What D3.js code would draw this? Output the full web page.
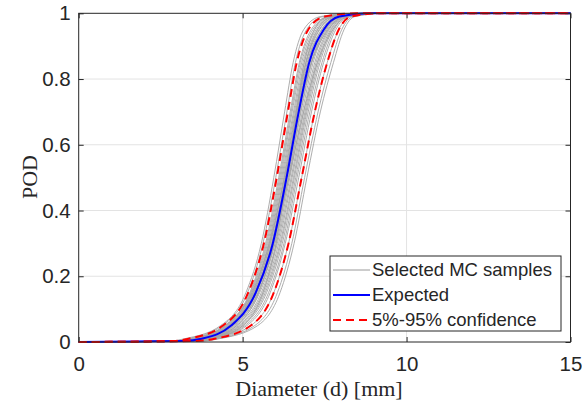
<!DOCTYPE html>
<html>
<head>
<meta charset="utf-8">
<script src="https://cdn.jsdelivr.net/npm/d3@7/dist/d3.min.js"></script>
<style>
  body { margin: 0; background: #fff; }
  text { font-family: "Liberation Sans", Arial, Helvetica, sans-serif; fill: #262626; }
</style>
</head>
<body>
<svg id="chart" width="582" height="405"></svg>
<script>
var podLevels = [0.003, 0.01, 0.05, 0.15, 0.3, 0.5, 0.7, 0.85, 0.95, 0.99, 1];

var expected = [3.20, 3.75, 4.65, 5.40, 5.92, 6.34, 6.71, 7.03, 7.47, 7.95, 8.90];
var conf05   = [2.90, 3.35, 4.40, 5.17, 5.65, 6.04, 6.38, 6.65, 7.00, 7.50, 8.50];
var conf95   = [3.60, 4.15, 5.25, 5.95, 6.40, 6.80, 7.20, 7.58, 7.93, 8.30, 9.20];

var mcSamples = [
  [2.81, 3.23, 4.33, 5.10, 5.57, 5.95, 6.28, 6.54, 6.86, 7.37, 8.38],
  [2.87, 3.31, 4.38, 5.15, 5.62, 6.01, 6.35, 6.61, 6.95, 7.45, 8.46],
  [2.96, 3.43, 4.45, 5.22, 5.70, 6.10, 6.45, 6.73, 7.09, 7.59, 8.58],
  [2.99, 3.47, 4.48, 5.24, 5.73, 6.13, 6.48, 6.76, 7.14, 7.64, 8.62],
  [3.02, 3.51, 4.50, 5.26, 5.76, 6.16, 6.51, 6.80, 7.19, 7.68, 8.66],
  [3.05, 3.55, 4.53, 5.29, 5.79, 6.19, 6.55, 6.84, 7.24, 7.73, 8.70],
  [3.08, 3.59, 4.55, 5.31, 5.81, 6.22, 6.58, 6.88, 7.28, 7.77, 8.74],
  [3.11, 3.63, 4.58, 5.33, 5.84, 6.25, 6.61, 6.92, 7.33, 7.82, 8.78],
  [3.13, 3.65, 4.59, 5.34, 5.85, 6.27, 6.63, 6.94, 7.35, 7.84, 8.80],
  [3.16, 3.69, 4.61, 5.37, 5.88, 6.30, 6.66, 6.97, 7.40, 7.88, 8.84],
  [3.17, 3.71, 4.63, 5.38, 5.89, 6.31, 6.68, 6.99, 7.42, 7.90, 8.86],
  [3.20, 3.75, 4.65, 5.40, 5.92, 6.34, 6.71, 7.03, 7.47, 7.95, 8.90],
  [3.22, 3.77, 4.68, 5.43, 5.94, 6.36, 6.73, 7.06, 7.49, 7.97, 8.92],
  [3.24, 3.79, 4.71, 5.46, 5.97, 6.39, 6.76, 7.09, 7.52, 7.99, 8.93],
  [3.26, 3.81, 4.74, 5.48, 5.99, 6.41, 6.78, 7.11, 7.54, 8.00, 8.95],
  [3.29, 3.84, 4.78, 5.52, 6.03, 6.44, 6.82, 7.15, 7.57, 8.03, 8.97],
  [3.32, 3.87, 4.83, 5.57, 6.06, 6.48, 6.86, 7.20, 7.61, 8.06, 8.99],
  [3.35, 3.90, 4.88, 5.61, 6.10, 6.51, 6.90, 7.24, 7.64, 8.08, 9.01],
  [3.38, 3.93, 4.92, 5.65, 6.14, 6.55, 6.93, 7.28, 7.68, 8.11, 9.04],
  [3.41, 3.96, 4.96, 5.69, 6.17, 6.58, 6.96, 7.32, 7.71, 8.13, 9.06],
  [3.44, 3.99, 5.01, 5.73, 6.21, 6.62, 7.00, 7.36, 7.75, 8.16, 9.08],
  [3.48, 4.03, 5.07, 5.79, 6.26, 6.66, 7.05, 7.42, 7.79, 8.20, 9.11],
  [3.52, 4.07, 5.13, 5.84, 6.30, 6.71, 7.10, 7.47, 7.84, 8.23, 9.14],
  [3.60, 4.15, 5.25, 5.95, 6.40, 6.80, 7.20, 7.58, 7.93, 8.30, 9.20],
  [3.68, 4.23, 5.37, 6.06, 6.50, 6.89, 7.30, 7.69, 8.02, 8.37, 9.26],
  [3.74, 4.29, 5.46, 6.14, 6.57, 6.96, 7.37, 7.77, 8.09, 8.42, 9.30],
  [2.90, 3.41, 4.48, 5.28, 5.82, 6.28, 6.70, 7.10, 7.60, 8.10, 9.08],
  [3.60, 4.07, 5.01, 5.62, 6.02, 6.34, 6.64, 6.88, 7.19, 7.59, 8.50],
  [3.40, 3.91, 4.82, 5.49, 5.95, 6.33, 6.66, 6.93, 7.29, 7.73, 8.66],
  [3.02, 3.57, 4.58, 5.37, 5.92, 6.41, 6.86, 7.28, 7.75, 8.21, 9.17]
];

var xTicks = [0, 5, 10, 15];
var yTicks = [0, 0.2, 0.4, 0.6, 0.8, 1];
var legendLabels = ["Selected MC samples", "Expected", "5%-95% confidence"];

var svg = d3.select("#chart");
var x = d3.scaleLinear().domain([0, 15]).range([78.7, 570.5]);
var y = d3.scaleLinear().domain([0, 1]).range([342, 13.3]);

// grid
svg.append("g").selectAll("line").data(xTicks.slice(1, -1)).enter().append("line")
  .attr("x1", d => x(d)).attr("x2", d => x(d))
  .attr("y1", y(0)).attr("y2", y(1))
  .attr("stroke", "#e3e3e3").attr("stroke-width", 1);
svg.append("g").selectAll("line").data(yTicks.slice(1, -1)).enter().append("line")
  .attr("y1", d => y(d)).attr("y2", d => y(d))
  .attr("x1", x(0)).attr("x2", x(15))
  .attr("stroke", "#e3e3e3").attr("stroke-width", 1);

// axes (ticks inside, mirrored on top/right)
function styleAxis(g) {
  g.select(".domain").remove();
  g.selectAll(".tick line").attr("stroke", "#262626");
  g.selectAll("text").style("font-size", "20.5px").attr("fill", "#262626");
}
svg.append("g").attr("transform", "translate(0," + y(0) + ")")
  .call(d3.axisBottom(x).tickValues(xTicks).tickSize(-5).tickPadding(14).tickFormat(d3.format("d")))
  .call(styleAxis);
svg.append("g").attr("transform", "translate(" + x(0) + ",0)")
  .call(d3.axisLeft(y).tickValues(yTicks).tickSize(-5).tickPadding(8).tickFormat(d => d === 0 || d === 1 ? d : d3.format(".1f")(d)))
  .call(styleAxis);
svg.append("g").attr("transform", "translate(0," + y(1) + ")")
  .call(d3.axisTop(x).tickValues(xTicks).tickSize(-5).tickFormat(""))
  .call(styleAxis);
svg.append("g").attr("transform", "translate(" + x(15) + ",0)")
  .call(d3.axisRight(y).tickValues(yTicks).tickSize(-5).tickFormat(""))
  .call(styleAxis);

// curves
function pts(xs) {
  return [[0, 0]].concat(xs.map((d, i) => [d, podLevels[i]])).concat([[15, 1]]);
}
var line = d3.line().x(d => x(d[0])).y(d => y(d[1])).curve(d3.curveMonotoneX);

svg.append("g").selectAll("path").data(mcSamples).enter().append("path")
  .attr("d", d => line(pts(d)))
  .attr("fill", "none").attr("stroke", "#a4a4a4").attr("stroke-width", 0.9);

svg.append("path").attr("d", line(pts(expected)))
  .attr("fill", "none").attr("stroke", "#0000ff").attr("stroke-width", 2);

[conf05, conf95].forEach(function (c) {
  svg.append("path").attr("d", line(pts(c)))
    .attr("fill", "none").attr("stroke", "#ff0000").attr("stroke-width", 2)
    .attr("stroke-dasharray", "8,5");
});

// box
svg.append("rect").attr("x", x(0)).attr("y", y(1))
  .attr("width", x(15) - x(0)).attr("height", y(0) - y(1))
  .attr("fill", "none").attr("stroke", "#262626").attr("stroke-width", 1);

// axis labels
svg.append("text").attr("x", 319).attr("y", 396).attr("text-anchor", "middle")
  .style("font-family", "'Liberation Serif', 'Times New Roman', serif").style("font-size", "22px")
  .text("Diameter (d) [mm]");
svg.append("text").attr("transform", "translate(37," + 177 + ") rotate(-90)")
  .attr("text-anchor", "middle")
  .style("font-family", "'Liberation Serif', 'Times New Roman', serif").style("font-size", "22px")
  .text("POD");

// legend
var lg = svg.append("g").attr("transform", "translate(330,256)");
lg.append("rect").attr("width", 231).attr("height", 75)
  .attr("fill", "#fff").attr("stroke", "#262626").attr("stroke-width", 1);
var legStyles = [
  { stroke: "#9a9a9a", w: 1, dash: null },
  { stroke: "#0000ff", w: 2, dash: null },
  { stroke: "#ff0000", w: 2, dash: "8,5" }
];
var rows = lg.selectAll("g.row").data(legendLabels).enter().append("g")
  .attr("transform", (d, i) => "translate(0," + (14 + i * 25) + ")");
rows.append("line").attr("x1", 3).attr("x2", 40)
  .attr("stroke", (d, i) => legStyles[i].stroke)
  .attr("stroke-width", (d, i) => legStyles[i].w)
  .attr("stroke-dasharray", (d, i) => legStyles[i].dash);
rows.append("text").attr("x", 42).attr("dy", "0.35em")
  .style("font-size", "18.5px").text(d => d);
</script>
</body>
</html>
